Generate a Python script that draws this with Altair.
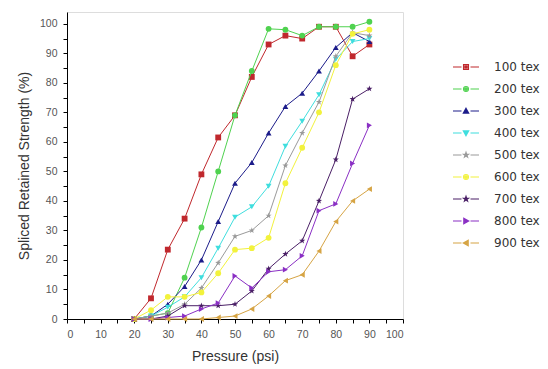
import altair as alt
import pandas as pd

pressure = [20, 25, 30, 35, 40, 45, 50, 55, 60, 65, 70, 75, 80, 85, 90]
series_names = ["100 tex", "200 tex", "300 tex", "400 tex", "500 tex",
                "600 tex", "700 tex", "800 tex", "900 tex"]
s100 = [0, 7, 23.5, 34, 49, 61.5, 69, 82, 93, 96, 95, 99, 99, 89, 93]
s200 = [0, 1, 2, 14, 31, 50, 69, 84, 98.3, 98, 96, 99, 99, 99, 100.7]
s300 = [0, 1, 5, 11, 20, 33, 46, 53, 63, 72, 76.5, 84, 92, 97, 94]
s400 = [0, 1, 4, 7.5, 14, 24, 34.5, 38, 45, 58.5, 67, 76, 88, 94, 95]
s500 = [0, 1, 2, 5, 10.5, 19, 28, 30, 35, 52, 63, 73.5, 89, 97, 96]
s600 = [0, 3, 7.5, 7.5, 9, 15.5, 23.5, 24, 27.5, 46, 58, 70, 86, 96.6, 98]
s700 = [0, 0, 1, 4.5, 4.5, 4.5, 5, 9.5, 17, 22, 26.5, 40, 54, 74.5, 78]
s800 = [0, 0, 0.5, 1, 3.4, 5.4, 14.6, 10.5, 16, 16.7, 21.4, 36.7, 39, 52.7, 65.6]
s900 = [0, 0, 0, 0, 0, 0.5, 1, 3.4, 7.8, 13, 15, 23, 33, 40, 44]
all_series = [s100, s200, s300, s400, s500, s600, s700, s800, s900]

colors = ["#c0282d", "#4fd24f", "#1c1c8a", "#3fdede", "#9a9a9a",
          "#f2f23c", "#4a1f66", "#8a2fc4", "#d6a444"]
STAR_PTS = [(0, -1.1), (0.26, -0.36), (1.05, -0.34), (0.42, 0.14), (0.65, 0.9),
            (0, 0.45), (-0.65, 0.9), (-0.42, 0.14), (-1.05, -0.34), (-0.26, -0.36)]
STAR = "M" + "L".join(f"{x},{y}" for x, y in STAR_PTS) + "Z"
shapes = ["square", "circle", "triangle-up", "triangle-down", STAR,
          "circle", STAR, "triangle-right", "triangle-left"]

# legend glyph outlines (unit coordinates) used to build "—■—" legend symbols
POLY = {
    "square": [(-1, -1), (1, -1), (1, 1), (-1, 1)],
    "triangle-up": [(0, -1.1), (1.1, 0.9), (-1.1, 0.9)],
    "triangle-down": [(0, 1.1), (1.1, -0.9), (-1.1, -0.9)],
    "triangle-right": [(1.1, 0), (-0.9, 1.1), (-0.9, -1.1)],
    "triangle-left": [(-1.1, 0), (0.9, 1.1), (0.9, -1.1)],
}


def glyph(shape):
    parts = []
    for s in (1.0, 0.5, 0.12):
        if shape == "circle":
            r = s
            parts.append(f"M{r},0A{r},{r} 0 1,1 {-r},0A{r},{r} 0 1,1 {r},0Z")
        else:
            pts = POLY.get(shape, STAR_PTS)
            parts.append("M" + "L".join(f"{x*s:.3f},{y*s:.3f}" for x, y in pts) + "Z")
    return "".join(parts)


dash = "M-5.2,0H-1.8M1.8,0H5.2"
legend_shapes = [dash + glyph(s) for s in shapes]

rows = []
for name, vals in zip(series_names, all_series):
    for p, v in zip(pressure, vals):
        rows.append({"Pressure": p, "Strength": v, "Series": name})
df = pd.DataFrame(rows)

xscale = alt.Scale(domain=[0, 100], nice=False, zero=False)
yscale = alt.Scale(domain=[0, 104], nice=False)

common_axis = dict(grid=False, tickSize=4, labelFontSize=10.5, labelColor="#555555",
                   labelFont="Liberation Sans", titleFont="Liberation Sans",
                   titleFontSize=14, titleFontWeight="normal", titleColor="#333333",
                   domainColor="#000000", tickColor="#000000", labelPadding=6,
                   labelOverlap=False,
                   values=list(range(0, 101, 5)),
                   labelExpr="datum.value % 10 == 0 ? datum.label : ''")
X = alt.X("Pressure:Q", scale=xscale, title="Pressure (psi)",
          axis=alt.Axis(titlePadding=10, **common_axis))
Y = alt.Y("Strength:Q", scale=yscale, title="Spliced Retained Strength (%)",
          axis=alt.Axis(titlePadding=8, **common_axis))

base = alt.Chart(df)
layers = []
for name, shp, col in zip(series_names, shapes, colors):
    sub = base.transform_filter(alt.datum.Series == name)
    layers.append(sub.mark_line(strokeWidth=1, color=col).encode(x=X, y=Y))
    layers.append(sub.mark_point(filled=True, size=34, opacity=1, shape=shp, color=col)
                  .encode(x=X, y=Y))

legend_layer = base.mark_point(filled=False, opacity=0, strokeWidth=1.1).encode(
    x=X, y=Y,
    color=alt.Color("Series:N", scale=alt.Scale(domain=series_names, range=colors),
                    legend=alt.Legend(orient="none", legendX=393, legendY=49, title=None,
                                      labelFont="DejaVu Sans", labelFontSize=12,
                                      labelColor="#333333", symbolSize=25,
                                      rowPadding=10, labelOffset=22,
                                      symbolOpacity=1, symbolStrokeWidth=1.1)),
    shape=alt.Shape("Series:N", scale=alt.Scale(domain=series_names, range=legend_shapes)),
)

chart = alt.layer(*layers, legend_layer).properties(
    width=336, height=307,
    autosize=alt.AutoSizeParams(type="none"),
    padding={"left": 67, "top": 12, "right": 145, "bottom": 50},
).configure_view(stroke="transparent", strokeWidth=0).configure(background="white")

chart.save("out.html", embed_options={"renderer": "svg", "actions": False})
